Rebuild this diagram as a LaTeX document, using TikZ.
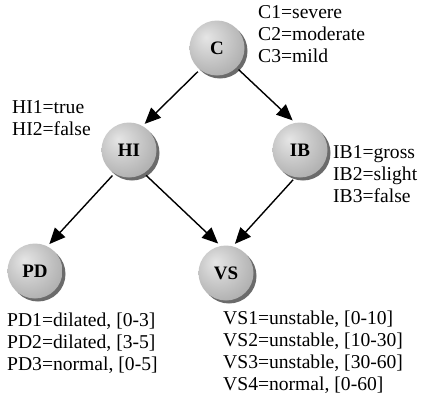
\documentclass[tikz,border=0pt]{standalone}
\usepackage{fontspec}
\setmainfont{Liberation Serif}
\usetikzlibrary{arrows.meta,shadows}
\pgfdeclareradialshading{spherebg}{\pgfpoint{-10bp}{10bp}}{%
  color(0bp)=(black!10);
  color(12bp)=(black!18);
  color(30bp)=(black!30);
  color(48bp)=(black!42);
  color(62bp)=(black!55)}
\newcommand{\infotext}[1]{\begin{tabular}[t]{@{}l@{}}#1\end{tabular}}
\tikzset{
  ballnode/.style={circle, minimum size=55pt, inner sep=0pt, outer sep=3pt,
    shading=spherebg,
    drop shadow={shadow xshift=3pt, shadow yshift=-3pt, fill=black!58, opacity=1},
    font=\fontsize{19}{19}\selectfont\bfseries},
  arr/.style={line width=1.4pt, -{Triangle[length=16pt,width=14pt]}},
  info/.style={anchor=base west, inner sep=0pt,
    font=\fontsize{19.6}{22}\selectfont}
}
\begin{document}
\begin{tikzpicture}[x=1pt,y=-1pt]
\useasboundingbox[fill=white] (0,0) rectangle (423,400);
\node[ballnode] (C)  at (217,48)  {C};
\node[ballnode] (HI) at (129,150) {HI};
\node[ballnode] (IB) at (300,150) {IB};
\node[ballnode] (PD) at (35,271)  {PD};
\node[ballnode] (VS) at (226,273) {VS};
\draw[arr] (C.231) -- (HI.59);
\draw[arr] (C.-45) -- (IB.104);
\draw[arr] (HI.237) -- (PD.62);
\draw[arr] (HI.-56) -- (VS.105);
\draw[arr] (IB.257) -- (VS.73);
\node[info] (tC)  at (258,18.5)  {\infotext{C1=severe\\C2=moderate\\C3=mild}};
\node[info] (tHI) at (12,113)    {\infotext{HI1=true\\HI2=false}};
\node[info] (tIB) at (333,158.5) {\infotext{IB1=gross\\IB2=slight\\IB3=false}};
\node[info] (tPD) at (7,326.5)   {\infotext{PD1=dilated, [0-3]\\PD2=dilated, [3-5]\\PD3=normal, [0-5]}};
\node[info] (tVS) at (223,324.5) {\infotext{VS1=unstable, [0-10]\\VS2=unstable, [10-30]\\VS3=unstable, [30-60]\\VS4=normal, [0-60]}};
\end{tikzpicture}
\end{document}
